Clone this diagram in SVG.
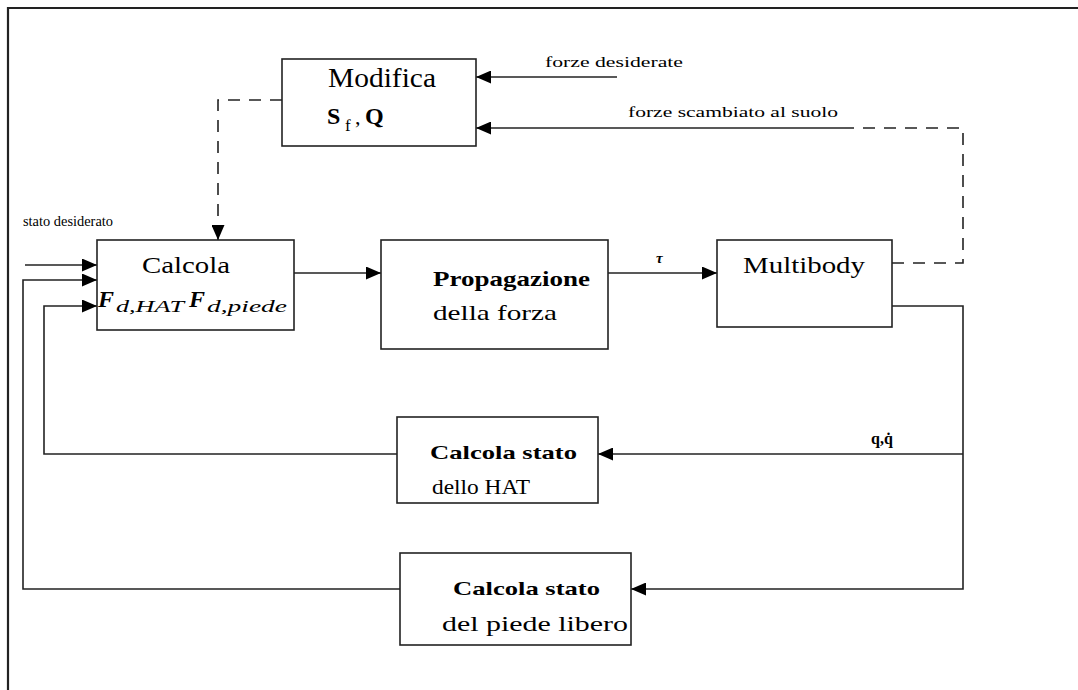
<svg xmlns="http://www.w3.org/2000/svg" width="1078" height="690" viewBox="0 0 1078 690">
<style>
.box{fill:#fff;stroke:#222;stroke-width:1.6}
.ln{fill:none;stroke:#222;stroke-width:1.6}
.dash{fill:none;stroke:#222;stroke-width:1.6;stroke-dasharray:12,9}
.t{font-family:"Liberation Serif","Times New Roman",serif;fill:#000}
.b{font-weight:bold}
</style>
<defs>
<marker id="ah" markerUnits="userSpaceOnUse" markerWidth="15" markerHeight="13" refX="15" refY="6.5" orient="auto">
<path d="M0,0 L15,6.5 L0,13 z" fill="#000"/>
</marker>
</defs>
<rect width="1078" height="690" fill="#fff"/>
<path d="M8,690 V8 H1078" fill="none" stroke="#222" stroke-width="2.2"/>

<g id="connectors">
<path class="ln" d="M617,77 H476" marker-end="url(#ah)"/>
<path class="dash" d="M892,263 H963 V128 H845"/>
<path class="ln" d="M845,128 H476" marker-end="url(#ah)"/>
<path class="dash" d="M282,100 H218 V226"/>
<path class="ln" d="M218,226 V240" marker-end="url(#ah)"/>
<path class="ln" d="M25,265 H97" marker-end="url(#ah)"/>
<path class="ln" d="M400,589 H23 V280 H97" marker-end="url(#ah)"/>
<path class="ln" d="M397,454 H44 V306 H97" marker-end="url(#ah)"/>
<path class="ln" d="M294,273 H381" marker-end="url(#ah)"/>
<path class="ln" d="M608,273 H717" marker-end="url(#ah)"/>
<path class="ln" d="M892,306 H963 V589 H631" marker-end="url(#ah)"/>
<path class="ln" d="M963,454 H598" marker-end="url(#ah)"/>
<text class="t" x="545" y="67" font-size="15" textLength="138" lengthAdjust="spacingAndGlyphs">forze desiderate</text>
<text class="t" x="628" y="117" font-size="15" textLength="210" lengthAdjust="spacingAndGlyphs">forze scambiato al suolo</text>
<text class="t" x="23" y="226" font-size="14" textLength="90" lengthAdjust="spacingAndGlyphs">stato desiderato</text>
<text class="t b" x="656" y="263" font-size="15" font-style="italic">τ</text>
<text class="t b" x="871" y="444" font-size="16">q,q̇</text>
</g>

<g id="modifica">
<rect class="box" x="282" y="59" width="194" height="87"/>
<text class="t" x="328" y="87" font-size="28" textLength="108" lengthAdjust="spacingAndGlyphs">Modifica</text>
<text class="t b" x="327" y="124" font-size="24">S</text>
<text class="t" x="345" y="131" font-size="17">f</text>
<text class="t" x="355" y="124" font-size="22">,</text>
<text class="t b" x="365" y="124" font-size="24">Q</text>
</g>

<g id="calcola">
<rect class="box" x="97" y="240" width="197" height="90"/>
<text class="t" x="142" y="273" font-size="24" textLength="88" lengthAdjust="spacingAndGlyphs">Calcola</text>
<text class="t b" x="98" y="307" font-size="24" font-style="italic">F</text>
<text class="t" x="116" y="312" font-size="17" font-style="italic" textLength="68" lengthAdjust="spacingAndGlyphs">d,HAT</text>
<text class="t b" x="189" y="307" font-size="24" font-style="italic">F</text>
<text class="t" x="207" y="312" font-size="17" font-style="italic" textLength="80" lengthAdjust="spacingAndGlyphs">d,piede</text>
</g>

<g id="propagazione">
<rect class="box" x="381" y="240" width="227" height="109"/>
<text class="t b" x="433" y="286" font-size="21" textLength="157" lengthAdjust="spacingAndGlyphs">Propagazione</text>
<text class="t" x="433" y="320" font-size="22" textLength="124" lengthAdjust="spacingAndGlyphs">della forza</text>
</g>

<g id="multibody">
<rect class="box" x="717" y="240" width="175" height="87"/>
<text class="t" x="743" y="273" font-size="24" textLength="122" lengthAdjust="spacingAndGlyphs">Multibody</text>
</g>

<g id="stato-hat">
<rect class="box" x="397" y="417" width="201" height="86"/>
<text class="t b" x="430" y="459" font-size="19" textLength="147" lengthAdjust="spacingAndGlyphs">Calcola stato</text>
<text class="t" x="432" y="494" font-size="22" textLength="98" lengthAdjust="spacingAndGlyphs">dello HAT</text>
</g>

<g id="stato-piede">
<rect class="box" x="400" y="553" width="231" height="92"/>
<text class="t b" x="453" y="595" font-size="19" textLength="147" lengthAdjust="spacingAndGlyphs">Calcola stato</text>
<text class="t" x="442" y="631" font-size="22" textLength="186" lengthAdjust="spacingAndGlyphs">del piede libero</text>
</g>
</svg>
